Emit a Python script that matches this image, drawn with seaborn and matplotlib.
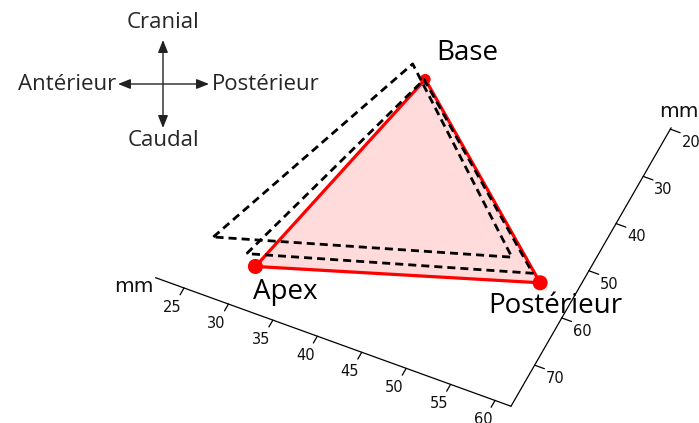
import numpy as np
import pandas as pd
import matplotlib
matplotlib.use("Agg")
import matplotlib.pyplot as plt
from matplotlib.transforms import Affine2D
from matplotlib.patches import Polygon, FancyArrowPatch
import seaborn as sns

# ---------------- data (mm) ----------------
vertex_names = ["Apex", "Base", "Postérieur"]
tri_x = [30.5, 36.3, 57.9]
tri_y = [70.4, 26.8, 55.2]
outer_x = [25.0, 34.3, 53.9]
outer_y = [67.9, 24.9, 52.5]
inner_x = [29.0, 36.2, 56.7]
inner_y = [68.7, 26.9, 54.0]
x_ticks = [25, 30, 35, 40, 45, 50, 55, 60]
y_ticks = [20, 30, 40, 50, 60, 70]
x_range = [21.8, 61.8]
y_range = [19.7, 78.7]
axis_title = "mm"
dir_up, dir_down, dir_left, dir_right = "Cranial", "Caudal", "Antérieur", "Postérieur"

# ---------------- figure ----------------
sns.set_theme(style="white")
W, H = 699, 423
fig = plt.figure(figsize=(W / 100, H / 100), dpi=100)
ax = fig.add_axes([0, 0, 1, 1])
ax.set_xlim(0, W)
ax.set_ylim(H, 0)
ax.axis("off")

# oblique projection of the (x, y) mm plane onto the page
proj = Affine2D.from_values(8.886, 3.214, -2.714, 4.72, 175.45, -163.85) + ax.transData

tick_font = dict(family="DejaVu Sans", fontsize=10.5, color="#111111")
lab_font = ["Open Sans", "DejaVu Sans"]

# axes lines
ax.plot(x_range, [y_range[1]] * 2, color="black", lw=0.9, transform=proj)
ax.plot([x_range[1]] * 2, y_range, color="black", lw=0.9, transform=proj)
for t in x_ticks:
    ax.plot([t, t], [y_range[1], y_range[1] + 1.45], color="black", lw=0.9, transform=proj)
    ax.annotate(str(t), xy=(t, y_range[1]), xycoords=proj, xytext=(-12, -19.5),
                textcoords="offset pixels", ha="center", va="center", **tick_font)
for t in y_ticks:
    ax.plot([x_range[1], x_range[1] + 1.1], [t, t], color="black", lw=0.9, transform=proj)
    ax.annotate(str(t), xy=(x_range[1], t), xycoords=proj, xytext=(20.5, -13.3),
                textcoords="offset pixels", ha="center", va="center", **tick_font)
ax.annotate(axis_title, xy=(x_range[0], y_range[1]), xycoords=proj, xytext=(-22, -9),
            textcoords="offset pixels", ha="center", va="center",
            family="DejaVu Sans", fontsize=14.5, color="#111111")
ax.annotate(axis_title, xy=(x_range[1], y_range[0]), xycoords=proj, xytext=(7.5, 16.7),
            textcoords="offset pixels", ha="center", va="center",
            family="DejaVu Sans", fontsize=14.5, color="#111111")

# filled triangle
ax.add_patch(Polygon(np.column_stack([tri_x, tri_y]), closed=True, transform=proj,
                     facecolor=(1, 0, 0, 0.14), edgecolor="none"))
ax.plot(tri_x + tri_x[:1], tri_y + tri_y[:1], color="#ff0000", lw=2.3,
        solid_joinstyle="round", transform=proj)

# vertices
df = pd.DataFrame({"x": tri_x, "y": tri_y, "name": vertex_names})
sns.scatterplot(data=df, x="x", y="y", size="name", sizes={"Apex": 118, "Base": 60, "Postérieur": 118},
                color="#ff0000", edgecolor="none", legend=False, ax=ax, transform=proj, zorder=3)
ax.set_xlim(0, W)
ax.set_ylim(H, 0)
ax.axis("off")

# dashed planes
for xs, ys in [(outer_x, outer_y), (inner_x, inner_y)]:
    ln, = ax.plot(xs + xs[:1], ys + ys[:1], color="black", lw=2.0, transform=proj, zorder=4)
    ln.set_dashes((2.9, 1.8))

# vertex labels
offsets = {"Apex": (30, -32.5), "Base": (41.8, 19.3), "Postérieur": (15, -30.5)}
for n, x, y in zip(vertex_names, tri_x, tri_y):
    ax.annotate(n, xy=(x, y), xycoords=proj, xytext=offsets[n], textcoords="offset pixels",
                ha="center", va="baseline", family=lab_font, fontsize=20, color="black", zorder=5)

# orientation compass
cx, cy = 163, 84
for (x0, y0, x1, y1) in [(cx, 40, cx, 128), (118, cy, 209, cy)]:
    ax.add_patch(FancyArrowPatch((x0, y0), (x1, y1), arrowstyle="<|-|>", mutation_scale=1,
                                 color="#222222", lw=1.0,
                                 shrinkA=0, shrinkB=0))
    ax.patches[-1].set_arrowstyle("<|-|>", head_length=7.5, head_width=3.0)
ax.text(cx, 23, dir_up, ha="center", va="center", family=lab_font, fontsize=16)
ax.text(cx, 141, dir_down, ha="center", va="center", family=lab_font, fontsize=16)
ax.text(116, cy, dir_left, ha="right", va="center", family=lab_font, fontsize=16)
ax.text(212, cy, dir_right, ha="left", va="center", family=lab_font, fontsize=16)

fig.savefig("out.png", dpi=100)
